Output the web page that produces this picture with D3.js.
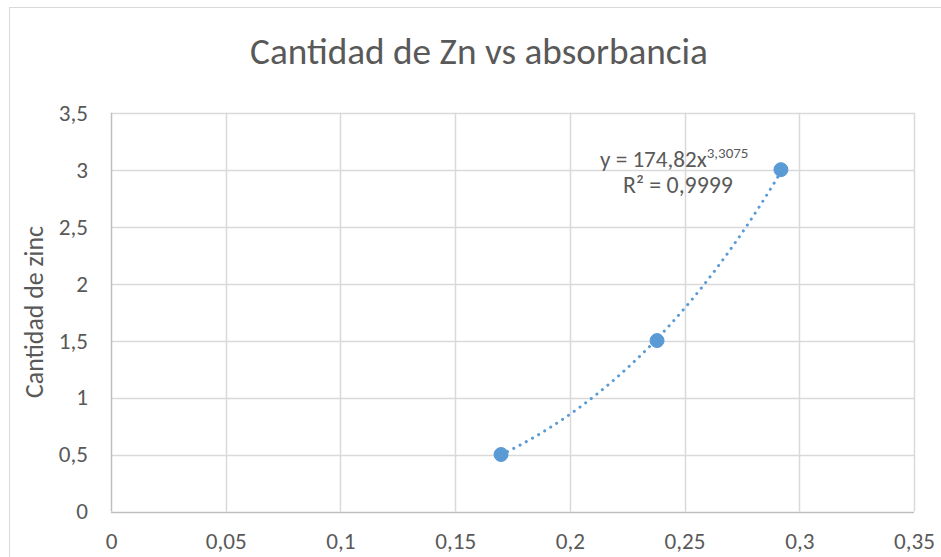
<!DOCTYPE html>
<html><head><meta charset="utf-8">
<script src="https://cdn.jsdelivr.net/npm/d3@7"></script>
<style>body{margin:0;background:#fff;}svg{display:block;font-family:Carlito,Calibri,"Open Sans",sans-serif;}</style>
</head><body>
<svg id="c" width="941" height="557"></svg>
<script>
const absorbance = [0.17, 0.238, 0.292];
const zinc = [0.5, 1.5, 3];
const xTicks = [0, 0.05, 0.1, 0.15, 0.2, 0.25, 0.3, 0.35];
const yTicks = [0, 0.5, 1, 1.5, 2, 2.5, 3, 3.5];
const trendCoef = 174.82, trendExp = 3.3075;
const title = "Cantidad de Zn vs absorbancia";
const yTitle = "Cantidad de zinc";

const svg = d3.select("#c");
const ff = "Carlito,Calibri,'Open Sans',sans-serif";
const fmt = d => String(d).replace(".", ",");
const x = d3.scaleLinear().domain([0, 0.35]).range([111, 914]);
const y = d3.scaleLinear().domain([0, 3.5]).range([511.5, 112.7]);

svg.append("rect").attr("x", 9.5).attr("y", 7.5).attr("width", 940).attr("height", 560)
  .attr("fill", "#fff").attr("stroke", "#d9d9d9");

function fitText(sel, w) {
  const cur = sel.node().getComputedTextLength();
  const fs = parseFloat(sel.attr("font-size"));
  sel.attr("font-size", fs * w / cur);
}

// gridlines
svg.append("g").selectAll("line").data(yTicks.slice(1)).join("line")
  .attr("x1", x(0)).attr("x2", x(0.35)).attr("y1", d => Math.round(y(d)) + 0.5).attr("y2", d => Math.round(y(d)) + 0.5)
  .attr("stroke", "#d9d9d9").attr("stroke-width", 1.5);
svg.append("g").selectAll("line").data(xTicks.slice(1)).join("line")
  .attr("x1", d => Math.round(x(d)) + 0.5).attr("x2", d => Math.round(x(d)) + 0.5).attr("y1", y(0)).attr("y2", y(3.5))
  .attr("stroke", "#d9d9d9").attr("stroke-width", 1.5);
// axis lines
svg.append("line").attr("x1", x(0)).attr("x2", x(0.35)).attr("y1", Math.round(y(0)) + 0.5).attr("y2", Math.round(y(0)) + 0.5)
  .attr("stroke", "#bfbfbf").attr("stroke-width", 1.5);
svg.append("line").attr("x1", Math.round(x(0)) + 0.5).attr("x2", Math.round(x(0)) + 0.5).attr("y1", y(0)).attr("y2", y(3.5))
  .attr("stroke", "#bfbfbf").attr("stroke-width", 1.5);

// measure tick font size so "0,35" is ~42px wide
const probe = svg.append("text").attr("font-size", 20).attr("font-family", ff).text(fmt(0.35));
const tickFs = 20 * 41 / probe.node().getComputedTextLength();
probe.remove();

// tick labels via axes
const xAxis = svg.append("g").attr("transform", `translate(0,${y(0)})`)
  .call(d3.axisBottom(x).tickValues(xTicks).tickFormat(fmt).tickSize(0).tickPadding(21));
xAxis.select(".domain").remove();
xAxis.selectAll("text").attr("font-size", tickFs).attr("fill", "#595959").attr("font-family", ff);

const yAxis = svg.append("g").attr("transform", `translate(${x(0)},0)`)
  .call(d3.axisLeft(y).tickValues(yTicks).tickFormat(fmt).tickSize(0).tickPadding(23));
yAxis.select(".domain").remove();
yAxis.selectAll("text").attr("font-size", tickFs).attr("fill", "#595959").attr("font-family", ff);

// title
const t = svg.append("text").attr("x", 479).attr("y", 64).attr("text-anchor", "middle")
  .attr("font-size", 30).attr("fill", "#595959").text(title);
fitText(t, 458);

const yt = svg.append("text").attr("transform", "translate(43,312) rotate(-90)").attr("text-anchor", "middle")
  .attr("font-size", 18).attr("fill", "#595959").text(yTitle);
fitText(yt, 172);

// trendline
const xs = d3.range(0, 61).map(i => absorbance[0] + (absorbance[2] - absorbance[0]) * i / 60);
const line = d3.line().x(d => x(d)).y(d => y(trendCoef * Math.pow(d, trendExp))).curve(d3.curveLinear);
svg.append("path").datum(xs).attr("d", line).attr("fill", "none")
  .attr("stroke", "#5b9bd5").attr("stroke-width", 3).attr("stroke-linecap", "round")
  .attr("stroke-dasharray", "0.1 7");

// points
svg.append("g").selectAll("circle").data(absorbance).join("circle")
  .attr("cx", d => x(d)).attr("cy", (d, i) => y(zinc[i])).attr("r", 7)
  .attr("fill", "#5b9bd5").attr("stroke", "#5b9bd5");

// equation
const eq = svg.append("text").attr("x", 600).attr("y", 167).attr("font-size", 20).attr("fill", "#595959");
const eqMain = eq.append("tspan").text("y = 174,82x");
eq.append("tspan").attr("font-size", 15).attr("dy", -9).text("3,3075");
fitText(eq, 155);
const r2 = svg.append("text").attr("x", 623).attr("y", 193).attr("font-size", 20).attr("fill", "#595959");
r2.append("tspan").text("R² = 0,9999");
fitText(r2, 110);
</script>
</body></html>
